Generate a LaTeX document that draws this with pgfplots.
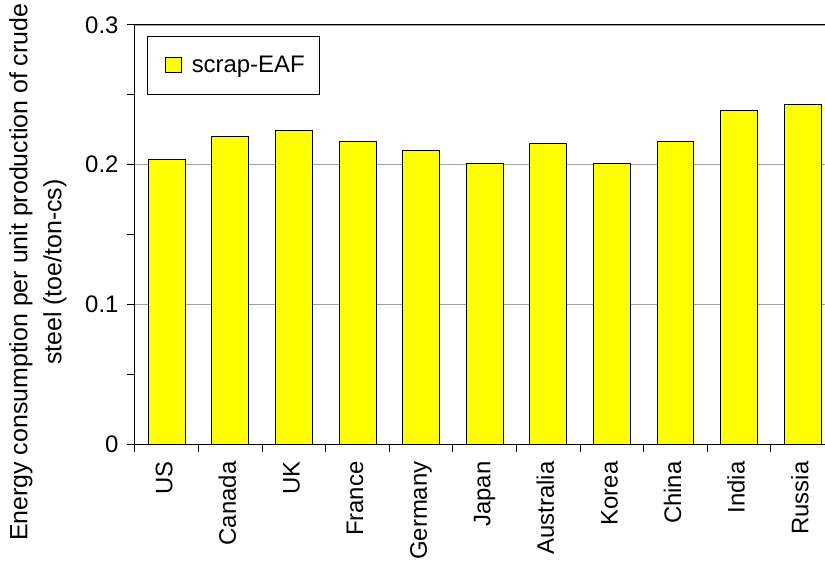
\documentclass[border=0pt]{standalone}
\usepackage{pgfplots}
\pgfplotsset{compat=1.18}
\usepackage{fontspec}
\setmainfont{Liberation Sans}
\definecolor{gridgray}{HTML}{A0A0A0}
\definecolor{baryellow}{HTML}{FFFF00}
\begin{document}
\begin{tikzpicture}[font=\fontsize{24}{34}\selectfont]
\begin{axis}[
  scale only axis, width=690bp, height=419bp,
  xmin=-0.5, xmax=10.35, ymin=0, ymax=0.3,
  clip=false,
  axis x line*=bottom, axis y line*=left,
  axis line style={-, line width=1bp, black},
  every outer x axis line/.append style={-},
  every outer y axis line/.append style={-},
  ybar, bar width=0.58,
  xtick={0,...,10},
  xticklabels={US,Canada,UK,France,Germany,Japan,Australia,Korea,China,India,Russia},
  major x tick style={draw=none},
  minor xtick={-0.5,0.5,...,9.5},
  ytick={0,0.1,0.2,0.3}, minor ytick={0.05,0.15,0.25},
  tick align=outside, major tick length=8bp, minor tick length=8bp,
  every tick/.style={black, line width=1bp},
  ymajorgrids, grid style={gridgray, line width=0.7bp},
  yticklabel style={/pgf/number format/fixed, /pgf/number format/assume math mode=true, xshift=-5bp},
  xticklabel style={rotate=90, anchor=east, xshift=-6bp, yshift=-2bp, text height=0.72em, text depth=0em},
  ylabel={Energy consumption per unit production of crude\\steel (toe/ton-cs)},
  ylabel style={align=center, at={(axis description cs:-0.1406,0.41)}, anchor=center,
    font=\fontsize{25}{34}\selectfont},
  legend style={at={(axis description cs:0.0178,0.9737)}, anchor=north west,
    draw=black, line width=1bp, inner xsep=13bp, inner ysep=18bp,
    font=\fontsize{24}{28}\selectfont},
  legend cell align=left,
]
\addplot[fill=baryellow, draw=black, line width=1bp,
  legend image code/.code={\path (0bp,0bp) (28bp,0bp); \draw[fill=baryellow, draw=black, line width=1bp] (4bp,-7.5bp) rectangle (20bp,7.5bp);}]
  coordinates {(0,0.2038) (1,0.2205) (2,0.2243) (3,0.2169) (4,0.2098) (5,0.2008) (6,0.2148) (7,0.2008) (8,0.2169) (9,0.2386) (10,0.2434)};
\addlegendentry{scrap-EAF}
\draw[line width=1bp, black] (rel axis cs:0,1) -- (rel axis cs:1,1);
\coordinate (sw) at (rel axis cs:0,0);
\end{axis}
\pgfresetboundingbox
\path[use as bounding box] ([shift={(-135bp,-121bp)}]sw) rectangle ([shift={(690bp,444bp)}]sw);
\end{tikzpicture}
\end{document}
